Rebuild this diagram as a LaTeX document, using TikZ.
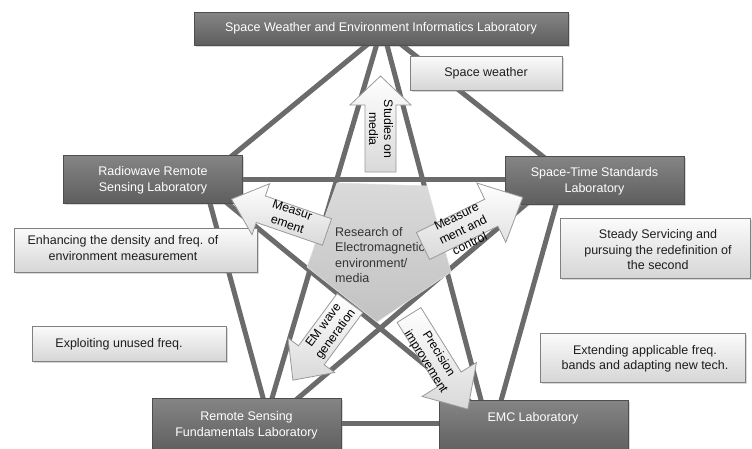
\documentclass[tikz,border=0pt]{standalone}
\usepackage{fontspec}
\setmainfont{Liberation Sans}
\usetikzlibrary{shadows,calc}
\definecolor{dktop}{HTML}{858585}
\definecolor{dkbot}{HTML}{5E5E5E}
\definecolor{dkborder}{HTML}{4E4E4E}
\definecolor{lttop}{HTML}{FBFBFB}
\definecolor{ltbot}{HTML}{D6D6D6}
\definecolor{ltborder}{HTML}{808080}
\definecolor{linkgray}{HTML}{6B6B6B}
\definecolor{penttop}{HTML}{DADADA}
\definecolor{pentbot}{HTML}{C2C2C2}
\definecolor{arrbot}{HTML}{D9D9D9}
\definecolor{arrborder}{HTML}{9A9A9A}
\definecolor{txtdark}{HTML}{1E1E1E}
\begin{document}
\begin{tikzpicture}[x=1pt,y=-1pt,
  darkbox/.style={draw=dkborder, line width=0.8pt, top color=dktop, bottom color=dkbot,
    inner sep=0pt, drop shadow={shadow xshift=2pt, shadow yshift=-2pt, opacity=0.3}},
  lightbox/.style={draw=ltborder, line width=1pt, top color=lttop, bottom color=ltbot,
    inner sep=0pt, drop shadow={shadow xshift=2pt, shadow yshift=-2pt, opacity=0.3}},
  wtext/.style={text=white, align=center, font=\fontsize{12.5}{16}\selectfont},
  btext/.style={text=txtdark, align=center, font=\fontsize{12.5}{15.5}\selectfont},
  atext/.style={text=black, align=center, font=\fontsize{12.3}{15}\selectfont, inner sep=0pt},
  link/.style={draw=linkgray, line width=5pt},
  arrowshape/.style={draw=arrborder, line width=0.8pt, top color=white, bottom color=arrbot},
  pent/.style={draw=white!88!black, line width=0.6pt, top color=penttop, bottom color=pentbot}
]
\useasboundingbox (0,0) rectangle (752,448);
\fill[white] (0,0) rectangle (752,448);

% connector end points (inside the boxes)
\coordinate (tA) at (385,30);
\coordinate (tB) at (381,30);
\coordinate (tC) at (383,30);
\coordinate (rwA) at (205,178);
\coordinate (rwB) at (205,185);
\coordinate (rwC) at (200,179);
\coordinate (stA) at (560,170);
\coordinate (stB) at (560,179);
\coordinate (stC) at (545,188);
\coordinate (stD) at (563,180);
\coordinate (rsA) at (270,405);
\coordinate (rsB) at (265,405);
\coordinate (rsC) at (290,405);
\coordinate (rsD) at (300,423);
\coordinate (emA) at (485,415);
\coordinate (emB) at (480,410);
\coordinate (emC) at (497,415);
\coordinate (emD) at (480,423);

% links
\draw[link] (tA) -- (rwA);
\draw[link] (tC) -- (stA);
\draw[link] (tB) -- (rsA);
\draw[link] (tC) -- (emA);
\draw[link] (rwB) -- (rsB);
\draw[link] (rwC) -- (stB);
\draw[link] (rwB) -- (emB);
\draw[link] (stC) -- (rsC);
\draw[link] (stD) -- (emC);
\draw[link] (rsD) -- (emD);

% central pentagon
\path[pent] (377,322) -- (451,272) -- (427,186) -- (337,183) -- (307,267) -- cycle;
\node[text=black!80, align=left, anchor=west, font=\fontsize{12.5}{15.5}\selectfont, inner sep=0pt]
  (core) at (335,255) {Research of\\Electromagnetic\\environment/\\media};

% laboratories
\node[darkbox, minimum width=374pt, minimum height=33pt] (swe) at (381,28.5) {};
\node[wtext] (swet) at (381,28.5) {Space Weather and Environment Informatics Laboratory};
\node[darkbox, minimum width=179pt, minimum height=48pt] (rw) at (152.5,179) {};
\node[wtext] (rwt) at (153,180) {Radiowave Remote\\Sensing Laboratory};
\node[darkbox, minimum width=179pt, minimum height=48pt] (st) at (594.5,180) {};
\node[wtext] (stt) at (594.5,181) {Space-Time Standards\\Laboratory};
\node[darkbox, minimum width=189pt, minimum height=54pt] (rs) at (246.5,425) {};
\node[wtext] (rst) at (246.5,425) {Remote Sensing\\Fundamentals Laboratory};
\node[darkbox, minimum width=189pt, minimum height=54pt] (emc) at (533.5,427) {};
\node[wtext] (emct) at (533,418) {EMC Laboratory};

% topic boxes
\node[lightbox, minimum width=152pt, minimum height=34pt] (sw) at (486,73) {};
\node[btext] (swt) at (486,73) {Space weather};
\node[lightbox, minimum width=243pt, minimum height=44pt] (enh) at (135.5,250) {};
\node[btext] (enht) at (123,248) {Enhancing the density and freq. of\\environment measurement};
\node[lightbox, minimum width=190pt, minimum height=60pt] (sty) at (655,248) {};
\node[btext] (styt) at (658,250) {Steady Servicing and\\pursuing the redefinition of\\the second};
\node[lightbox, minimum width=194pt, minimum height=35pt] (exp) at (129,343.5) {};
\node[btext] (expt) at (119,344) {Exploiting unused freq.};
\node[lightbox, minimum width=205pt, minimum height=49pt] (ext) at (642.5,357.5) {};
\node[btext] (extt) at (645,359) {Extending applicable freq.\\bands and adapting new tech.};

% block arrows
% studies on media (up)
\begin{scope}[shift={(380.5,172)}, rotate=90]
\path[arrowshape] (0,-15.5) -- (67,-15.5) -- (67,-30.5) -- (96,0) -- (67,30.5) -- (67,15.5) -- (0,15.5) -- cycle;
\end{scope}
\node[atext, rotate=-90] (studies) at (381,129) {Studies on\\media};
% measurement (to radiowave)
\begin{scope}[shift={(327,232)}, rotate=161]
\path[arrowshape] (0,-14) -- (70,-14) -- (70,-27) -- (101,0) -- (70,27) -- (70,14) -- (0,14) -- cycle;
\end{scope}
\node[atext, rotate=-19] (meas) at (290,217) {Measur\\ement};
% measurement and control (to space-time)
\begin{scope}[shift={(423,246)}, rotate=26]
\path[arrowshape] (0,-15) -- (76,-15) -- (76,-33) -- (111,0) -- (76,33) -- (76,15) -- (0,15) -- cycle;
\end{scope}
\node[atext, rotate=26] (mctl) at (463,230) {Measure\\ment and\\control};
% EM wave generation (to remote sensing)
\begin{scope}[shift={(350,303)}, rotate=233.5]
\path[arrowshape] (0,-16) -- (65,-16) -- (65,-29) -- (96,0) -- (65,29) -- (65,16) -- (0,16) -- cycle;
\end{scope}
\node[atext, rotate=53.5] (emw) at (330,330) {EM wave\\generation};
% precision improvement (to EMC)
\begin{scope}[shift={(409,315)}, rotate=-58]
\path[arrowshape] (0,-14) -- (76,-14) -- (76,-32) -- (111,0) -- (76,32) -- (76,14) -- (0,14) -- cycle;
\end{scope}
\node[atext, rotate=-58] (prec) at (432,358) {Precision\\improvement};
\end{tikzpicture}
\end{document}
